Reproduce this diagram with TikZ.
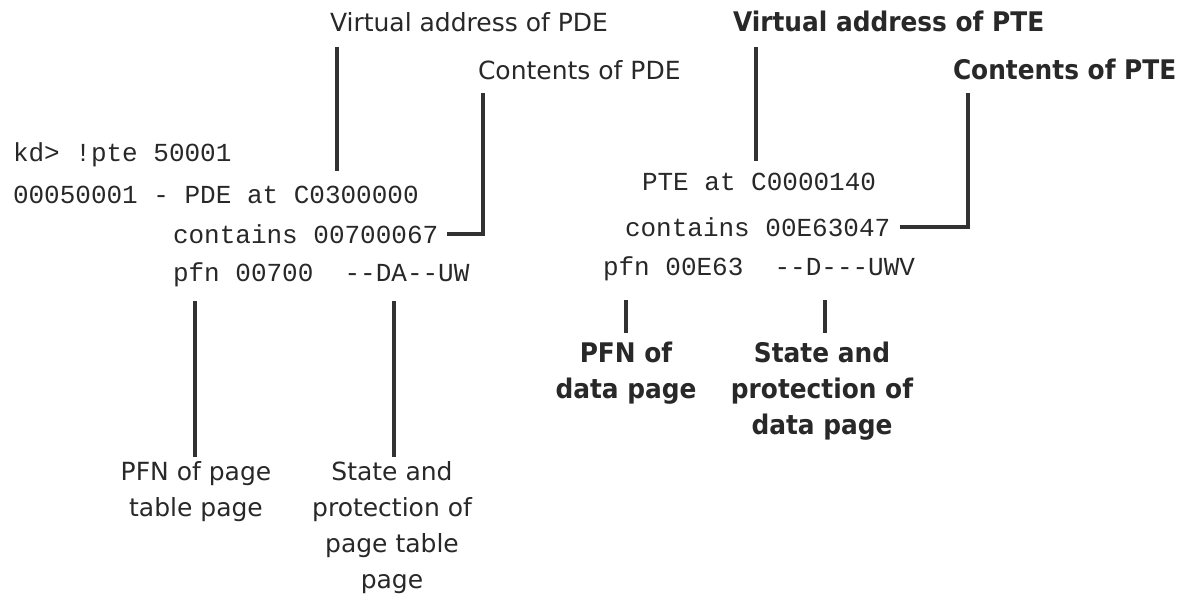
\documentclass[tikz,border=0pt]{standalone}
\usepackage{fontspec}
\newfontfamily\codefont{Liberation Mono}
\newfontfamily\labfont{DejaVu Sans}
\newfontfamily\blabfont[FakeStretch=0.92]{DejaVu Sans}
\definecolor{ink}{RGB}{40,40,40}
\definecolor{wire}{RGB}{50,50,50}
\tikzset{
  code/.style={inner sep=0pt, outer sep=0pt, text=ink, font=\codefont\fontsize{26}{30}\selectfont, anchor=base west},
  lab/.style={inner sep=0pt, outer sep=0pt, text=ink, font=\labfont\fontsize{25}{36}\selectfont, align=center},
  blab/.style={inner sep=0pt, outer sep=0pt, text=ink, font=\blabfont\bfseries\fontsize{27}{36}\selectfont, align=center},
  conn/.style={draw=wire, line width=4pt, line cap=butt, line join=miter}
}
\begin{document}
\begin{tikzpicture}[x=1pt,y=-1pt]
\useasboundingbox[fill=white] (0,0) rectangle (1181,599);
% top labels
\node[lab, anchor=base west] (vaPDE) at (330,32) {Virtual address of PDE};
\node[lab, anchor=base west] (cPDE) at (478,80) {Contents of PDE};
\node[blab, anchor=base west] (vaPTE) at (733,32) {Virtual address of PTE};
\node[blab, anchor=base west] (cPTE) at (953,80) {Contents of PTE};
% debugger output, left
\node[code] (cmd) at (13,162) {kd> !pte 50001};
\node[code] (pdeAt) at (13,204) {00050001 - PDE at C0300000};
\node[code] (pdeCont) at (173,243) {contains 00700067};
\node[code] (pdePfn) at (173,281) {pfn 00700\ \ --DA--UW};
% debugger output, right
\node[code] (pteAt) at (642,190) {PTE at C0000140};
\node[code] (pteCont) at (625,236) {contains 00E63047};
\node[code] (ptePfn) at (603,275) {pfn 00E63\ \ --D---UWV};
% bottom labels
\node[lab, anchor=north] (pdePfnLab) at (196,462) {PFN of page\\table page};
\node[lab, anchor=north] (pdeStLab) at (392,462) {State and\\protection of\\page table\\page};
\node[blab, anchor=north] (ptePfnLab) at (626,342) {PFN of\\data page};
\node[blab, anchor=north] (pteStLab) at (822,342) {State and\\protection of\\data page};
% x positions of connectors
\coordinate (x1) at (337,0);
\coordinate (x2) at (483,0);
\coordinate (x3) at (756,0);
\coordinate (x4) at (968,0);
\coordinate (x5) at (195,0);
\coordinate (x6) at (394,0);
\coordinate (x7) at (626,0);
\coordinate (x8) at (825,0);
% connectors
\draw[conn, shorten <=15pt, shorten >=16pt] (vaPDE.south -| x1) -- (pdeAt.north -| x1);
\draw[conn, shorten <=13pt, shorten >=9pt] (cPDE.south -| x2) -- (pdeCont.east -| x2) -- (pdeCont.east);
\draw[conn, shorten <=15pt, shorten >=12pt] (vaPTE.south -| x3) -- (pteAt.north -| x3);
\draw[conn, shorten <=13pt, shorten >=10pt] (cPTE.south -| x4) -- (pteCont.east -| x4) -- (pteCont.east);
\draw[conn, shorten <=15pt, shorten >=5pt] (pdePfn.south -| x5) -- (pdePfnLab.north -| x5);
\draw[conn, shorten <=15pt, shorten >=5pt] (pdePfn.south -| x6) -- (pdeStLab.north -| x6);
\draw[conn, shorten <=20pt, shorten >=9pt] (ptePfn.south -| x7) -- (ptePfnLab.north -| x7);
\draw[conn, shorten <=20pt, shorten >=9pt] (ptePfn.south -| x8) -- (pteStLab.north -| x8);
\end{tikzpicture}
\end{document}
